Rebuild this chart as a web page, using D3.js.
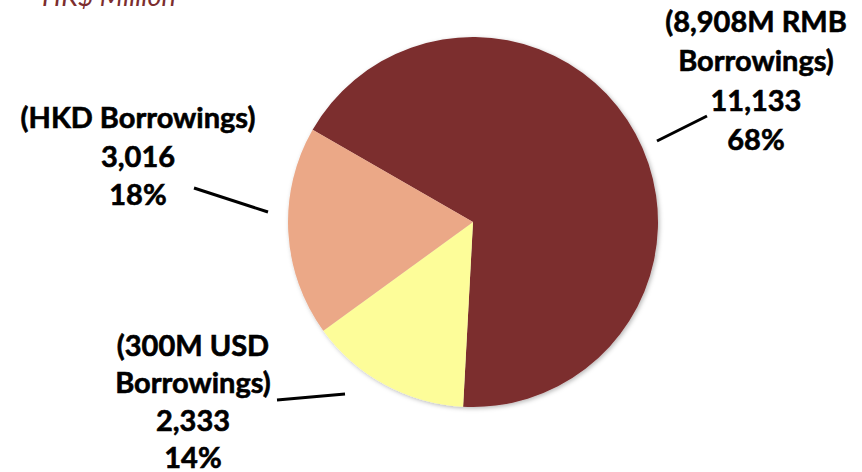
<!DOCTYPE html>
<html>
<head>
<meta charset="utf-8">
<script src="https://cdn.jsdelivr.net/npm/d3@7"></script>
<style>
  html, body { margin: 0; padding: 0; background: #fff; }
  svg { display: block; }
  .lbl { font-family: Lato, "Open Sans", sans-serif; font-weight: 700; fill: #000; stroke: #000; stroke-width: 0.6px; }
</style>
</head>
<body>
<svg id="chart" width="862" height="472"></svg>
<script>
// Borrowings by currency, HK$ million
const categories = ["(8,908M RMB\nBorrowings)", "(300M USD\nBorrowings)", "(HKD Borrowings)"];
const values = [11133, 2333, 3016];
const percentLabels = ["68%", "14%", "18%"];
const colors = ["#7C2D2E", "#FDFD99", "#EBA887"];
const unitTitle = "HK$ Million";

const svg = d3.select("#chart");
const cx = 473, cy = 222, R = 185;
const rotationDeg = -60.1;

const defs = svg.append("defs");
const shadow = defs.append("filter").attr("id", "pieShadow")
  .attr("x", "-10%").attr("y", "-10%").attr("width", "120%").attr("height", "120%");
shadow.append("feDropShadow")
  .attr("dx", 1.5).attr("dy", 1.5).attr("stdDeviation", 2.2)
  .attr("flood-color", "#000").attr("flood-opacity", 0.28);

// unit caption, partly above the top edge
svg.append("text")
  .attr("x", 42).attr("y", 6)
  .attr("font-family", "Lato, 'Open Sans', sans-serif")
  .attr("font-style", "italic")
  .attr("font-size", 27)
  .attr("fill", "#7C2D2E")
  .text(unitTitle);

const start = rotationDeg * Math.PI / 180;
const pie = d3.pie().sort(null).value(d => d)
  .startAngle(start).endAngle(start + 2 * Math.PI);
const arc = d3.arc().innerRadius(0).outerRadius(R);

const g = svg.append("g").attr("transform", `translate(${cx},${cy})`);
g.append("g").attr("filter", "url(#pieShadow)")
  .selectAll("path")
  .data(pie(values))
  .join("path")
  .attr("d", arc)
  .attr("fill", (d, i) => colors[i]);

// label blocks: anchor centre, baseline of first line, line gap, leader endpoints
const layout = [
  { x: 756, y: 32, gap: 39.3, line: [[657, 141], [707, 116]] },
  { x: 193, y: 356, gap: 37.4, line: [[277, 400], [345, 394]] },
  { x: 138, y: 128, gap: 38.5, line: [[194, 188], [268, 212]] }
];
const fmt = d3.format(",");

layout.forEach((L, i) => {
  const lines = categories[i].split("\n").concat([fmt(values[i]), percentLabels[i]]);
  const t = svg.append("text").attr("class", "lbl")
    .attr("text-anchor", "middle")
    .attr("font-size", 29);
  lines.forEach((s, k) => {
    t.append("tspan").attr("x", L.x).attr("y", L.y + k * L.gap).text(s);
  });
  svg.append("line")
    .attr("x1", L.line[0][0]).attr("y1", L.line[0][1])
    .attr("x2", L.line[1][0]).attr("y2", L.line[1][1])
    .attr("stroke", "#000").attr("stroke-width", 3);
});
</script>
</body>
</html>
